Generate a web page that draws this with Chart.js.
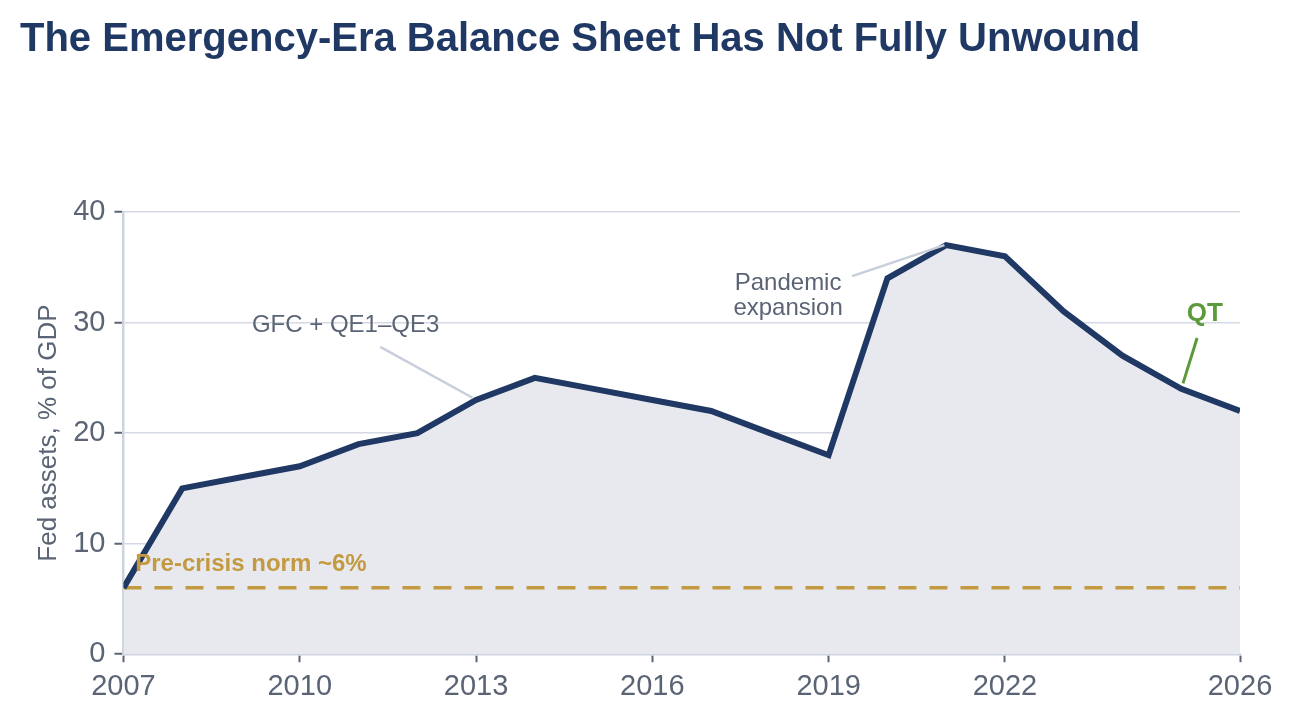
<!DOCTYPE html>
<html>
<head>
<meta charset="utf-8">
<script src="https://cdn.jsdelivr.net/npm/chart.js@4/dist/chart.umd.min.js"></script>
<style>
  html, body { margin: 0; padding: 0; background: #ffffff; }
  #wrap { position: relative; width: 1292px; height: 721px; }
  canvas { display: block; }
</style>
</head>
<body>
<div id="wrap"><canvas id="c" width="1292" height="721"></canvas></div>
<script>
// ---- Data ----
const years = [2007, 2008, 2009, 2010, 2011, 2012, 2013, 2014, 2015, 2016, 2017, 2018, 2019, 2020, 2021, 2022, 2023, 2024, 2025, 2026];
const fedAssets = [6, 15, 16, 17, 19, 20, 23, 25, 24, 23, 22, 20, 18, 34, 37, 36, 31, 27, 24, 22];
const preCrisisNorm = 6;
const xTickValues = [2007, 2010, 2013, 2016, 2019, 2022, 2026];
const yTickValues = [0, 10, 20, 30, 40];

const FONT = "'Liberation Sans', Arial, Helvetica, sans-serif";
const GREY = '#5b6475';
const NAVY = '#1f3864';
const GOLD = '#c39a3f';
const GREEN = '#5b9a3a';

// annotations placed in data coordinates
const notes = [
  { lines: ['GFC + QE1\u2013QE3'], at: [2010.78, 29.7], from: [2011.37, 27.8], to: [2012.94, 23.2], color: GREY, lineColor: '#c8cfdb', bold: false, size: 24, lw: 2.5 },
  { lines: ['Pandemic', 'expansion'], at: [2018.31, 32.4], from: [2019.40, 34.2], to: [2020.97, 37.0], color: GREY, lineColor: '#c8cfdb', bold: false, size: 24, lw: 2.5 },
  { lines: ['QT'], at: [2025.40, 30.8], from: [2025.27, 28.6], to: [2025.03, 24.5], color: GREEN, lineColor: GREEN, bold: true, size: 26, lw: 3 }
];
const normLabel = { text: 'Pre-crisis norm ~6%', at: [2007.2, 8.1] };

const annotationPlugin = {
  id: 'notes',
  afterDatasetsDraw(chart) {
    const ctx = chart.ctx;
    const xs = chart.scales.x, ys = chart.scales.y;
    ctx.save();
    notes.forEach(n => {
      ctx.strokeStyle = n.lineColor;
      ctx.lineWidth = n.lw;
      ctx.beginPath();
      ctx.moveTo(xs.getPixelForValue(n.from[0]), ys.getPixelForValue(n.from[1]));
      ctx.lineTo(xs.getPixelForValue(n.to[0]), ys.getPixelForValue(n.to[1]));
      ctx.stroke();
      ctx.fillStyle = n.color;
      ctx.font = (n.bold ? 'bold ' : '') + n.size + 'px ' + FONT;
      ctx.textAlign = 'center';
      ctx.textBaseline = 'middle';
      const cx = xs.getPixelForValue(n.at[0]);
      const cy = ys.getPixelForValue(n.at[1]);
      const lh = 25;
      const start = cy - (n.lines.length - 1) * lh / 2;
      n.lines.forEach((t, i) => ctx.fillText(t, cx, start + i * lh));
    });
    ctx.fillStyle = GOLD;
    ctx.font = 'bold 24px ' + FONT;
    ctx.textAlign = 'left';
    ctx.textBaseline = 'middle';
    ctx.fillText(normLabel.text, xs.getPixelForValue(normLabel.at[0]), ys.getPixelForValue(normLabel.at[1]));
    ctx.restore();
  }
};

new Chart(document.getElementById('c'), {
  type: 'line',
  data: {
    labels: years,
    datasets: [
      {
        label: 'Fed assets',
        data: years.map((y, i) => ({ x: y, y: fedAssets[i] })),
        borderColor: NAVY,
        borderWidth: 6,
        backgroundColor: '#e8e9ef',
        fill: 'origin',
        pointRadius: 0,
        tension: 0,
        order: 1
      },
      {
        label: 'Pre-crisis norm',
        data: [{ x: years[0], y: preCrisisNorm }, { x: years[years.length - 1], y: preCrisisNorm }],
        borderColor: GOLD,
        borderWidth: 3.5,
        borderDash: [18, 13],
        fill: false,
        pointRadius: 0,
        order: 2
      }
    ]
  },
  options: {
    responsive: false,
    animation: false,
    layout: { padding: { left: 20, right: 52, top: 0, bottom: 10 } },
    plugins: {
      legend: { display: false },
      tooltip: { enabled: false },
      filler: { drawTime: 'beforeDatasetsDraw' },
      title: {
        display: true,
        text: 'The Emergency-Era Balance Sheet Has Not Fully Unwound',
        align: 'start',
        color: NAVY,
        font: { family: FONT, size: 40, weight: 'bold', lineHeight: 1.2 },
        padding: { top: 16, bottom: 148 }
      }
    },
    scales: {
      x: {
        type: 'linear',
        min: 2007,
        max: 2026,
        afterBuildTicks: s => { s.ticks = xTickValues.map(v => ({ value: v })); },
        ticks: {
          color: GREY,
          font: { family: FONT, size: 29 },
          padding: 7,
          maxRotation: 0,
          autoSkip: false,
          callback: v => String(v)
        },
        grid: { display: true, drawOnChartArea: false, drawTicks: true, tickLength: 8, tickColor: GREY, tickWidth: 2 },
        border: { display: true, color: '#cdd3df', width: 2.5 }
      },
      y: {
        min: 0,
        max: 40,
        afterBuildTicks: s => { s.ticks = yTickValues.map(v => ({ value: v })); },
        ticks: {
          color: GREY,
          font: { family: FONT, size: 29 },
          padding: 9
        },
        title: {
          display: true,
          text: 'Fed assets, % of GDP',
          color: GREY,
          font: { family: FONT, size: 26 },
          padding: { top: 13, bottom: 0 }
        },
        grid: { color: '#d5d9e3', lineWidth: 1.5, drawTicks: true, tickLength: 9, tickColor: GREY, tickWidth: 2 },
        border: { display: true, color: '#cdd3df', width: 2.5 }
      }
    }
  },
  plugins: [annotationPlugin]
});
</script>
</body>
</html>
